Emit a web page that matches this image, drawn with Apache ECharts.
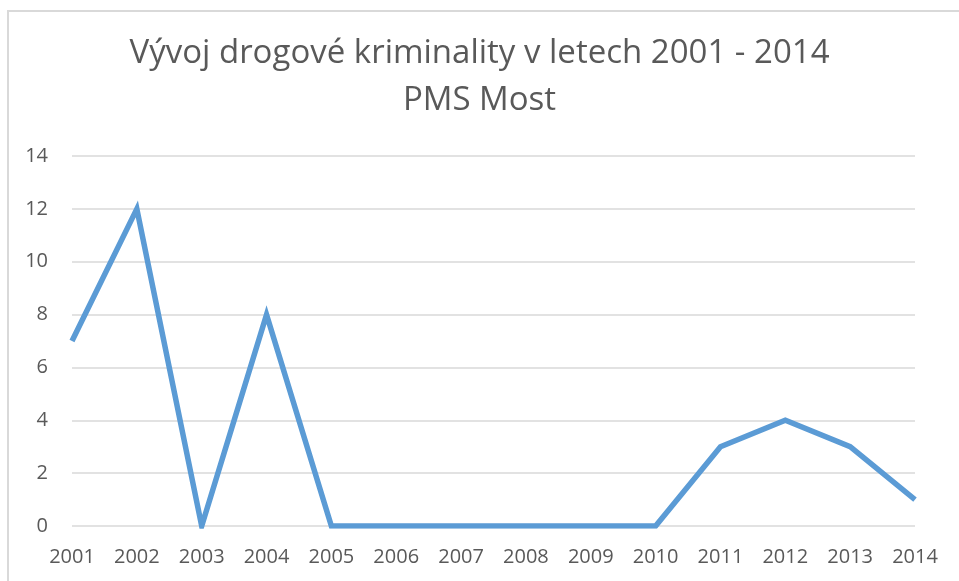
<!DOCTYPE html>
<html>
<head>
<meta charset="utf-8">
<script src="https://cdn.jsdelivr.net/npm/echarts@6/dist/echarts.min.js"></script>
<style>
  html, body { margin: 0; padding: 0; background: #fff; }
  #chart { width: 959px; height: 581px; }
</style>
</head>
<body>
<div id="chart"></div>
<script>
// roky a počty případů
const years = ["2001", "2002", "2003", "2004", "2005", "2006", "2007",
  "2008", "2009", "2010", "2011", "2012", "2013", "2014"];
const cases = [7, 12, 0, 8, 0, 0, 0, 0, 0, 0, 3, 4, 3, 1];
const titleLines = ["Vývoj drogové kriminality v letech 2001 - 2014", "PMS Most"];

const textColor = "#595959";
const font = "Open Sans";

const chart = echarts.init(document.getElementById("chart"));

const options = {
  animation: false,
  backgroundColor: "#fff",
  textStyle: { fontFamily: font },
  graphic: [
    {
      type: "rect",
      shape: { x: 8, y: 11, width: 1000, height: 1000 },
      style: { fill: "none", stroke: "#d9d9d9", lineWidth: 2 },
      silent: true,
    },
  ],
  title: {
    text: titleLines.join("\n"),
    left: "center",
    top: 25,
    textStyle: {
      fontFamily: font,
      fontSize: 33,
      fontWeight: "normal",
      color: textColor,
      lineHeight: 47,
    },
  },
  grid: {
    left: 72,
    right: 44,
    top: 156,
    bottom: 55,
  },
  xAxis: {
    type: "category",
    data: years,
    boundaryGap: false,
    axisLine: { show: false },
    axisTick: { show: false },
    axisLabel: {
      color: textColor,
      fontFamily: font,
      fontSize: 20,
      margin: 21,
      interval: 0,
    },
  },
  yAxis: {
    type: "value",
    min: 0,
    max: 14,
    interval: 2,
    axisLabel: {
      color: textColor,
      fontFamily: font,
      fontSize: 20,
      margin: 24,
    },
    splitLine: { lineStyle: { color: "#d9d9d9", width: 1.5 } },
  },
  series: [
    {
      name: "Případy",
      type: "line",
      data: cases,
      symbol: "none",
      lineStyle: { color: "#5b9bd5", width: 5.5, cap: "butt", join: "miter" },
    },
  ],
};

chart.setOption(options);
</script>
</body>
</html>
